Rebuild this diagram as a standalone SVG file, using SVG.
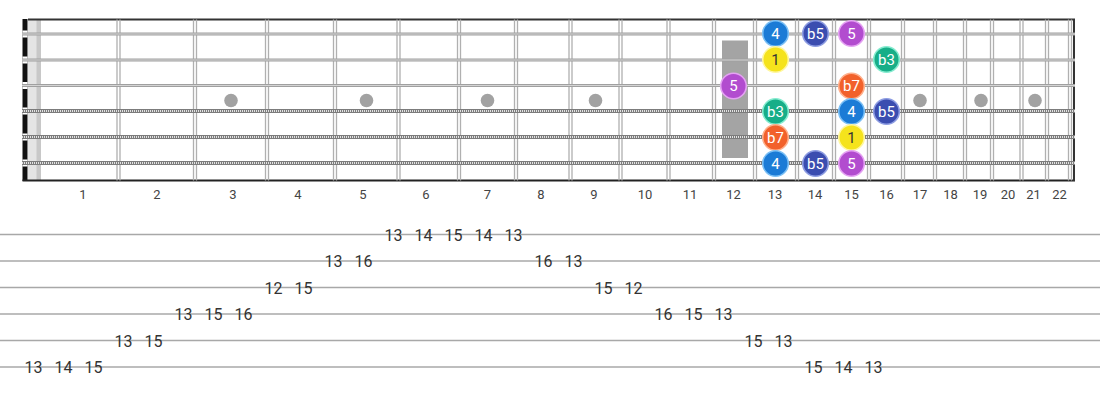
<svg xmlns="http://www.w3.org/2000/svg" width="1100" height="400" viewBox="0 0 1100 400">
<defs>
<style>
.fret{stroke:#b0b0b0;stroke-width:1.3;fill:none}
.plain{stroke:#a0a0a0;stroke-width:3}
.plainc{stroke:#d4d4d4;stroke-width:1}
.wound{stroke:#7c7c7c;stroke-width:4.2}
.woundc{stroke:#e2e2e2;stroke-width:2;stroke-dasharray:1 1}
.dot{fill:#a2a2a2}
.flab{font-family:Roboto,"Liberation Sans",sans-serif;font-size:13px;fill:#444;text-anchor:middle}
.tabl{stroke:#a8a8a8;stroke-width:1.6}
.tab{font-family:Roboto,"Liberation Sans",sans-serif;font-size:16px;fill:#333;text-anchor:middle}
.nt{font-family:Roboto,"Liberation Sans",sans-serif;font-size:15px;fill:#fff;text-anchor:middle}
.dk{fill:#333}
.c4{fill:#1b7bd6;stroke:#7cc0f5;stroke-width:1.6}
.cb5{fill:#3b4db0;stroke:#8e9de2;stroke-width:1.6}
.c5{fill:#b24ccf;stroke:#e4a2f2;stroke-width:1.6}
.c1{fill:#f5e31c;stroke:#fff7a0;stroke-width:1.6}
.cb3{fill:#17ae88;stroke:#86ecd0;stroke-width:1.6}
.cb7{fill:#f2612b;stroke:#ffb08c;stroke-width:1.6}
</style>
</defs>
<rect width="1100" height="400" fill="#fff"/>
<g id="fretboard">
<rect x="28" y="19.5" width="13" height="161" fill="#e4e4e4"/>
<rect x="36.5" y="19.5" width="4.5" height="161" fill="#c8c8c8"/>
<rect x="22.5" y="19" width="5" height="162" fill="#111"/>
<line x1="28" y1="19.5" x2="1075" y2="19.5" stroke="#333" stroke-width="1.8"/>
<line x1="22.5" y1="180.5" x2="1075" y2="180.5" stroke="#222" stroke-width="1.8"/>
<line x1="1074" y1="19" x2="1074" y2="181" stroke="#333" stroke-width="2"/>
<rect x="722" y="40.5" width="26" height="117.5" fill="#a4a4a4"/>
<g id="frets">
<path class="fret" d="M117 19.5V180.5M120 19.5V180.5M193.5 19.5V180.5M196.5 19.5V180.5M265.5 19.5V180.5M268.5 19.5V180.5M333.5 19.5V180.5M336.5 19.5V180.5M397 19.5V180.5M400 19.5V180.5M457.5 19.5V180.5M460.5 19.5V180.5M514.5 19.5V180.5M517.5 19.5V180.5M569 19.5V180.5M572 19.5V180.5M619 19.5V180.5M622 19.5V180.5M667 19.5V180.5M670 19.5V180.5M712.5 19.5V180.5M715.5 19.5V180.5M753.5 19.5V180.5M756.5 19.5V180.5M795.5 19.5V180.5M798.5 19.5V180.5M832.5 19.5V180.5M835.5 19.5V180.5M867.5 19.5V180.5M870.5 19.5V180.5M901.5 19.5V180.5M904.5 19.5V180.5M933.5 19.5V180.5M936.5 19.5V180.5M963.5 19.5V180.5M966.5 19.5V180.5M990.5 19.5V180.5M993.5 19.5V180.5M1020 19.5V180.5M1023 19.5V180.5M1045.5 19.5V180.5M1048.5 19.5V180.5M1068.5 19.5V180.5M1071.5 19.5V180.5"/>
</g>
<g id="markers">
<circle class="dot" cx="231" cy="100.5" r="6.8"/>
<circle class="dot" cx="366.5" cy="100.5" r="6.8"/>
<circle class="dot" cx="487.5" cy="100.5" r="6.8"/>
<circle class="dot" cx="595.5" cy="100.5" r="6.8"/>
<circle class="dot" cx="920" cy="100.5" r="6.8"/>
<circle class="dot" cx="981" cy="100.5" r="6.8"/>
<circle class="dot" cx="1035" cy="100.5" r="6.8"/>
</g>
<g id="strings">
<rect x="22.5" y="30.5" width="5" height="7" fill="#fff"/>
<rect x="22.5" y="56.5" width="5" height="7" fill="#fff"/>
<rect x="22.5" y="82" width="5" height="7" fill="#fff"/>
<rect x="22.5" y="107.5" width="5" height="7" fill="#fff"/>
<rect x="22.5" y="133.5" width="5" height="7" fill="#fff"/>
<rect x="22.5" y="159.5" width="5" height="7" fill="#fff"/>
<line class="plain" x1="22" y1="34" x2="1075" y2="34"/>
<line class="plainc" x1="22" y1="34" x2="1075" y2="34"/>
<line class="plain" x1="22" y1="60" x2="1075" y2="60"/>
<line class="plainc" x1="22" y1="60" x2="1075" y2="60"/>
<line class="plain" x1="22" y1="85.5" x2="1075" y2="85.5"/>
<line class="plainc" x1="22" y1="85.5" x2="1075" y2="85.5"/>
<line class="wound" x1="22" y1="111" x2="1075" y2="111"/>
<line class="woundc" x1="22" y1="111" x2="1075" y2="111"/>
<line class="wound" x1="22" y1="137" x2="1075" y2="137"/>
<line class="woundc" x1="22" y1="137" x2="1075" y2="137"/>
<line class="wound" x1="22" y1="163" x2="1075" y2="163"/>
<line class="woundc" x1="22" y1="163" x2="1075" y2="163"/>
</g>
</g>
<g id="fret-numbers">
<text class="flab" x="83" y="199">1</text>
<text class="flab" x="157" y="199">2</text>
<text class="flab" x="233" y="199">3</text>
<text class="flab" x="298" y="199">4</text>
<text class="flab" x="363" y="199">5</text>
<text class="flab" x="426" y="199">6</text>
<text class="flab" x="487.5" y="199">7</text>
<text class="flab" x="541" y="199">8</text>
<text class="flab" x="594" y="199">9</text>
<text class="flab" x="645" y="199">10</text>
<text class="flab" x="690" y="199">11</text>
<text class="flab" x="733.5" y="199">12</text>
<text class="flab" x="775" y="199">13</text>
<text class="flab" x="815" y="199">14</text>
<text class="flab" x="851.5" y="199">15</text>
<text class="flab" x="886.5" y="199">16</text>
<text class="flab" x="920" y="199">17</text>
<text class="flab" x="950.5" y="199">18</text>
<text class="flab" x="980" y="199">19</text>
<text class="flab" x="1008" y="199">20</text>
<text class="flab" x="1033.5" y="199">21</text>
<text class="flab" x="1059.5" y="199">22</text>
</g>
<g id="notes">
<g id="n-s1-f13"><circle class="c4" cx="775.5" cy="33.5" r="12.8"/><text class="nt" x="775.5" y="38.8">4</text></g>
<g id="n-s1-f14"><circle class="cb5" cx="815.5" cy="33.5" r="12.8"/><text class="nt" x="815.5" y="38.8">b5</text></g>
<g id="n-s1-f15"><circle class="c5" cx="851.5" cy="33.5" r="12.8"/><text class="nt" x="851.5" y="38.8">5</text></g>
<g id="n-s2-f13"><circle class="c1" cx="775.5" cy="59.5" r="12.8"/><text class="nt dk" x="775.5" y="64.8">1</text></g>
<g id="n-s2-f16"><circle class="cb3" cx="886.5" cy="59.5" r="12.8"/><text class="nt" x="886.5" y="64.8">b3</text></g>
<g id="n-s3-f12"><circle class="c5" cx="733.5" cy="86" r="12.8"/><text class="nt" x="733.5" y="91.3">5</text></g>
<g id="n-s3-f15"><circle class="cb7" cx="851.5" cy="86" r="12.8"/><text class="nt" x="851.5" y="91.3">b7</text></g>
<g id="n-s4-f13"><circle class="cb3" cx="775.5" cy="111.5" r="12.8"/><text class="nt" x="775.5" y="116.8">b3</text></g>
<g id="n-s4-f15"><circle class="c4" cx="851.5" cy="111.5" r="12.8"/><text class="nt" x="851.5" y="116.8">4</text></g>
<g id="n-s4-f16"><circle class="cb5" cx="886.5" cy="111.5" r="12.8"/><text class="nt" x="886.5" y="116.8">b5</text></g>
<g id="n-s5-f13"><circle class="cb7" cx="775.5" cy="137.5" r="12.8"/><text class="nt" x="775.5" y="142.8">b7</text></g>
<g id="n-s5-f15"><circle class="c1" cx="851.5" cy="137.5" r="12.8"/><text class="nt dk" x="851.5" y="142.8">1</text></g>
<g id="n-s6-f13"><circle class="c4" cx="775.5" cy="163.5" r="12.8"/><text class="nt" x="775.5" y="168.8">4</text></g>
<g id="n-s6-f14"><circle class="cb5" cx="815.5" cy="163.5" r="12.8"/><text class="nt" x="815.5" y="168.8">b5</text></g>
<g id="n-s6-f15"><circle class="c5" cx="851.5" cy="163.5" r="12.8"/><text class="nt" x="851.5" y="168.8">5</text></g>
</g>
<g id="tab">
<g id="tab-lines">
<line class="tabl" x1="0" y1="234.5" x2="1100" y2="234.5"/>
<line class="tabl" x1="0" y1="261" x2="1100" y2="261"/>
<line class="tabl" x1="0" y1="287.5" x2="1100" y2="287.5"/>
<line class="tabl" x1="0" y1="314" x2="1100" y2="314"/>
<line class="tabl" x1="0" y1="340.5" x2="1100" y2="340.5"/>
<line class="tabl" x1="0" y1="367" x2="1100" y2="367"/>
</g>
<g id="tab-s1">
<text class="tab" x="393.5" y="240.5">13</text><text class="tab" x="423.5" y="240.5">14</text><text class="tab" x="453.5" y="240.5">15</text><text class="tab" x="483.5" y="240.5">14</text><text class="tab" x="513.5" y="240.5">13</text>
</g>
<g id="tab-s2">
<text class="tab" x="333.5" y="267">13</text><text class="tab" x="363.5" y="267">16</text><text class="tab" x="543.5" y="267">16</text><text class="tab" x="573.5" y="267">13</text>
</g>
<g id="tab-s3">
<text class="tab" x="273.5" y="293.5">12</text><text class="tab" x="303.5" y="293.5">15</text><text class="tab" x="603.5" y="293.5">15</text><text class="tab" x="633.5" y="293.5">12</text>
</g>
<g id="tab-s4">
<text class="tab" x="183.5" y="320">13</text><text class="tab" x="213.5" y="320">15</text><text class="tab" x="243.5" y="320">16</text><text class="tab" x="663.5" y="320">16</text><text class="tab" x="693.5" y="320">15</text><text class="tab" x="723.5" y="320">13</text>
</g>
<g id="tab-s5">
<text class="tab" x="123.5" y="346.5">13</text><text class="tab" x="153.5" y="346.5">15</text><text class="tab" x="753.5" y="346.5">15</text><text class="tab" x="783.5" y="346.5">13</text>
</g>
<g id="tab-s6">
<text class="tab" x="33.5" y="373">13</text><text class="tab" x="63.5" y="373">14</text><text class="tab" x="93.5" y="373">15</text><text class="tab" x="813.5" y="373">15</text><text class="tab" x="843.5" y="373">14</text><text class="tab" x="873.5" y="373">13</text>
</g>
</g>
</svg>
